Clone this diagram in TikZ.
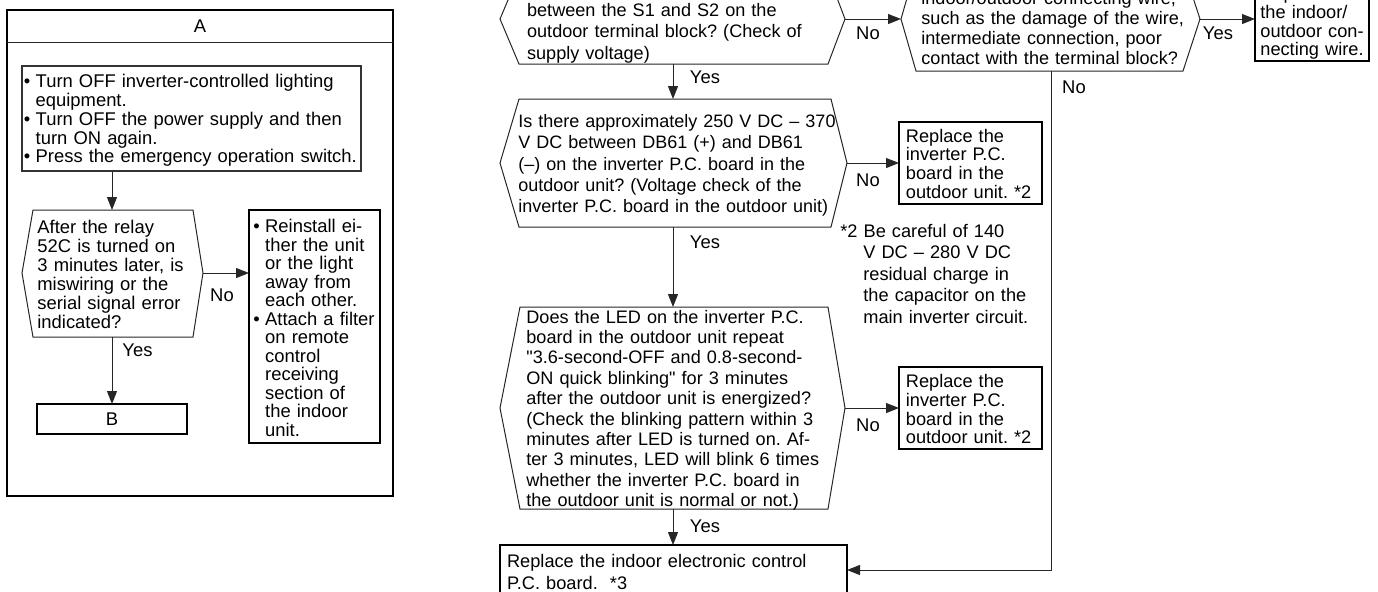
\documentclass[tikz,border=0pt]{standalone}
\usepackage{fontspec}
\setmainfont{Liberation Sans}
\usetikzlibrary{arrows.meta}
\newcommand\bulx{\makebox[5.9pt][l]{•}}
\newcommand\indx{\hspace*{5.9pt}}
\newcommand\qd{\textquotedbl}
\tikzset{
  thinl/.style={line width=0.5pt, draw=black!85},
  hexl/.style={line width=0.5pt, draw=black!85, line join=miter},
  frame/.style={draw=black, line width=1pt, inner sep=0pt, outer sep=0pt},
  boxthin/.style={draw=black!80, line width=0.55pt, inner sep=0pt, outer sep=0pt},
  boxheavy/.style={draw=black, line width=1.3pt, inner sep=0pt, outer sep=0pt},
  arr/.style={line width=0.5pt, draw=black!85, -{Triangle[length=6.5pt,width=5pt]}},
  lbl/.style={inner sep=0pt, font=\fontsize{9.2}{10}\selectfont},
  txt/.style={inner sep=0pt, anchor=base west, align=left, text width=250pt}
}
\begin{document}
\frenchspacing
\begin{tikzpicture}[x=0.5pt,y=-0.5pt]
\useasboundingbox (0,0) rectangle (1378,591);
\clip (0,0) rectangle (1378,591);

% ---------------- Panel A ----------------
\node[frame, anchor=north west, minimum width=193pt, minimum height=243pt] (pa) at (7,10) {};
\coordinate (hdr) at (200,42);
\draw[thinl] (pa.west |- hdr) -- (pa.east |- hdr);
\node[lbl] (la) at (200,26) {A};

\node[boxthin, anchor=north west, minimum width=169.5pt, minimum height=52.5pt] (b1) at (22,66) {};
\node[txt, font=\fontsize{9.2}{9.4}\selectfont] (t1) at (23.5,87.7)
 {\bulx Turn OFF inverter-controlled lighting\\
  \indx equipment.\\
  \bulx Turn OFF the power supply and then\\
  \indx turn ON again.\\
  \bulx Press the emergency operation switch.};

\draw[hexl] (22,273) -- (33,210) -- (193,210) -- (203,273) -- (193,337) -- (33,337) -- cycle;
\coordinate (h5t) at (112,210);
\coordinate (h5r) at (203,273);
\coordinate (h5b) at (112,337);
\node[txt, font=\fontsize{9.2}{9.45}\selectfont] (t5) at (37,233.7)
 {After the relay\\ 52C is turned on\\ 3 minutes later, is\\ miswiring or the\\ serial signal error\\ indicated?};

\node[boxheavy, anchor=north west, minimum width=65.5pt, minimum height=116.5pt] (rb) at (249,210) {};
\node[txt, font=\fontsize{9.2}{9.25}\selectfont] (trb) at (253,232.7)
 {\bulx Reinstall ei-\\ \indx ther the unit\\ \indx or the light\\ \indx away from\\ \indx each other.\\
  \bulx Attach a filter\\ \indx on remote\\ \indx control\\ \indx receiving\\ \indx section of\\ \indx the indoor\\ \indx unit.};

\node[boxheavy, minimum width=75pt, minimum height=15pt, font=\fontsize{9.2}{10}\selectfont] (bb) at (112,419) {B};

\draw[arr] (b1.south -| h5t) -- (h5t);
\draw[arr] (h5r) -- (rb.west |- h5r);
\draw[arr] (h5b) -- (bb.north);
\node[lbl] (n5) at (222,295) {No};
\node[lbl] (y5) at (137.5,350) {Yes};

% ---------------- Middle column ----------------
% hex 1
\draw[hexl] (500,19) -- (519,-26) -- (828,-26) -- (845,19) -- (828,64) -- (519,64) -- cycle;
\coordinate (h1r) at (845,19);
\coordinate (h1b) at (673,64);
\node[txt, font=\fontsize{9.05}{10.75}\selectfont] (t1m) at (526.7,16)
 {between the S1 and S2 on the\\ outdoor terminal block? (Check of\\ supply voltage)};

% hex 2
\draw[hexl] (500,163) -- (519,99) -- (831,99) -- (847,163) -- (831,227) -- (519,227) -- cycle;
\coordinate (h2t) at (673,99);
\coordinate (h2r) at (847,163);
\coordinate (h2b) at (673,227);
\node[txt, font=\fontsize{9.0}{10.6}\selectfont] (t2m) at (518,127.7)
 {Is there approximately 250 V DC – 370\\ V DC between DB61 (+) and DB61\\ (–) on the inverter P.C. board in the\\ outdoor unit? (Voltage check of the\\ inverter P.C. board in the outdoor unit)};

% hex 3
\draw[hexl] (500,408) -- (520,307) -- (828,307) -- (845,408) -- (828,509) -- (520,509) -- cycle;
\coordinate (h3t) at (673,307);
\coordinate (h3r) at (845,408);
\coordinate (h3b) at (673,509);
\node[txt, font=\fontsize{9.05}{10.2}\selectfont] (t3m) at (526,323)
 {Does the LED on the inverter P.C.\\ board in the outdoor unit repeat\\ \qd3.6-second-OFF and 0.8-second-\\ ON quick blinking\qd{} for 3 minutes\\ after the outdoor unit is energized?\\ (Check the blinking pattern within 3\\ minutes after LED is turned on. Af-\\ ter 3 minutes, LED will blink 6 times\\ whether the inverter P.C. board in\\ the outdoor unit is normal or not.)};

% hex 4
\draw[hexl] (901,19) -- (916,-33) -- (1183,-33) -- (1200,19) -- (1183,71) -- (916,71) -- cycle;
\coordinate (h4l) at (901,19);
\coordinate (h4r) at (1200,19);
\coordinate (h4b) at (1051,71);
\node[txt, font=\fontsize{9.05}{10.05}\selectfont] (t4m) at (921,4.3)
 {indoor/outdoor connecting wire,\\ such as the damage of the wire,\\ intermediate connection, poor\\ contact with the terminal block?};

% boxes
\node[boxheavy, anchor=north west, minimum width=57pt, minimum height=40.5pt] (tr) at (1255,-20) {};
\node[txt, font=\fontsize{9.1}{9.4}\selectfont] (ttr) at (1260,-0.6)
 {Repair\\ the indoor/\\ outdoor con-\\ necting wire.};

\node[boxheavy, anchor=north west, minimum width=71.5pt, minimum height=41pt] (r1) at (899,122) {};
\node[txt, font=\fontsize{9.1}{9.35}\selectfont] (tr1) at (905.5,142)
 {Replace the\\ inverter P.C.\\ board in the\\ outdoor unit. *2};

\node[boxheavy, anchor=north west, minimum width=71.5pt, minimum height=41pt] (r2) at (899,367) {};
\node[txt, font=\fontsize{9.1}{9.35}\selectfont] (tr2) at (905.5,387.7)
 {Replace the\\ inverter P.C.\\ board in the\\ outdoor unit. *2};

\node[boxheavy, anchor=north west, minimum width=173.5pt, minimum height=30pt] (bx) at (500,545) {};
\node[txt, font=\fontsize{9.1}{10.65}\selectfont] (tbx) at (506.7,567.7)
 {Replace the indoor electronic control\\ P.C. board.\ \ *3};

% note *2
\node[txt, font=\fontsize{9.1}{10.8}\selectfont] (nt1) at (840,237) {*2 Be careful of 140};
\node[txt, font=\fontsize{9.1}{10.8}\selectfont] (nt2) at (863,258.5)
 {V DC – 280 V DC\\ residual charge in\\ the capacitor on the\\ main inverter circuit.};

% connectors
\coordinate (c570) at (1051,570);
\draw[arr] (h1r) -- (h4l);
\draw[arr] (h1b) -- (h2t);
\draw[arr] (h2r) -- (r1.west |- h2r);
\draw[arr] (h2b) -- (h3t);
\draw[arr] (h3r) -- (r2.west |- h3r);
\draw[arr] (h3b) -- (bx.north -| h3b);
\draw[arr] (h4r) -- (tr.west |- h4r);
\draw[arr] (h4b) |- (bx.east |- c570);

\node[lbl] (l1) at (868,33) {No};
\node[lbl] (l2) at (705,77) {Yes};
\node[lbl] (l3) at (868,180) {No};
\node[lbl] (l4) at (705,242) {Yes};
\node[lbl] (l5) at (868,425) {No};
\node[lbl] (l6) at (705,526) {Yes};
\node[lbl] (l7) at (1218,33) {Yes};
\node[lbl] (l8) at (1074,87) {No};
\end{tikzpicture}
\end{document}
